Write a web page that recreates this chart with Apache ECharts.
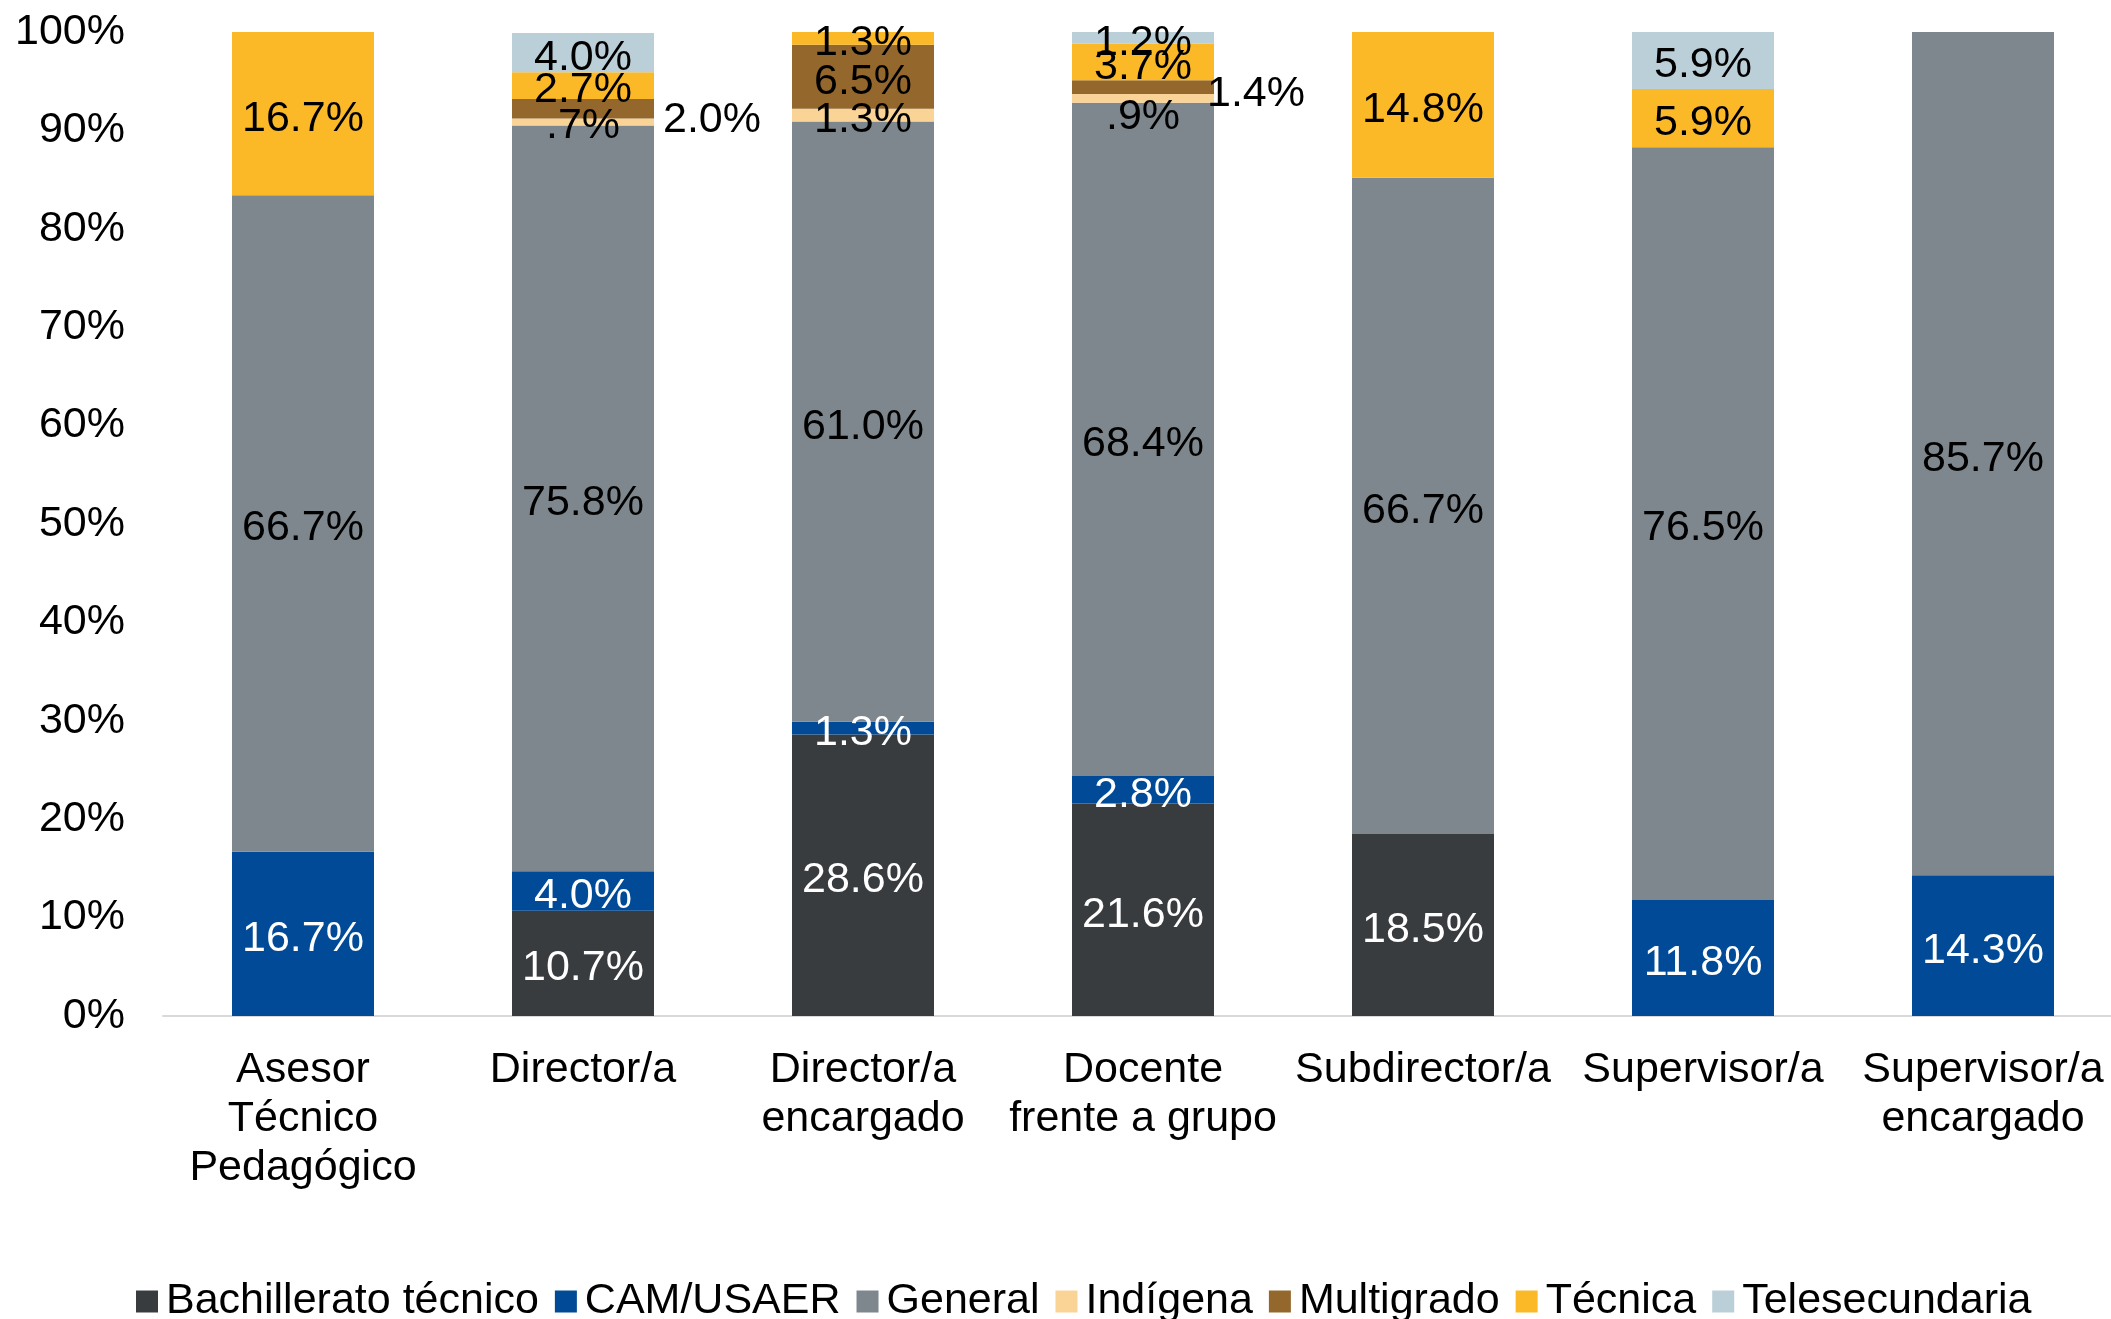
<!DOCTYPE html>
<html>
<head>
    <meta charset="UTF-8">
    <title>Gráfico de barras apiladas</title>
    <script src="https://cdn.jsdelivr.net/npm/echarts@6/dist/echarts.min.js"></script>
    <style>
        html, body {
            margin: 0;
            padding: 0;
            height: 100%;
            background: #fff;
        }
        #chart {
            width: 2111px;
            height: 1319px;
        }
    </style>
</head>
<body>
<div id="chart"></div>
<script>
    // categorías (con saltos de línea como en el original)
    var categories = [
        'Asesor\nTécnico\nPedagógico',
        'Director/a',
        'Director/a\nencargado',
        'Docente\nfrente a grupo',
        'Subdirector/a',
        'Supervisor/a',
        'Supervisor/a\nencargado'
    ];

    // valores en % por serie
    var bachillerato  = [null, 10.7, 28.6, 21.6, 18.5, null, null];
    var camUsaer      = [16.7, 4.0, 1.3, 2.8, null, 11.8, 14.3];
    var general       = [66.7, 75.8, 61.0, 68.4, 66.7, 76.5, 85.7];
    var indigena      = [null, 0.7, 1.3, 0.9, null, null, null];
    var multigrado    = [null, 2.0, 6.5, 1.4, null, null, null];
    var tecnica       = [16.7, 2.7, 1.3, 3.7, 14.8, 5.9, null];
    var telesecundaria = [null, 4.0, null, 1.2, null, 5.9, null];

    var yTicks = [0, 10, 20, 30, 40, 50, 60, 70, 80, 90, 100];

    var FONT = '"Liberation Sans", Arial, sans-serif';
    var FS = 43;

    // etiquetas desplazadas (como en Excel)
    var labelOffsets = {
        'Indígena': { 1: [0, 4], 3: [0, 19] },
        'Multigrado': { 1: [129, 11], 3: [113, 7] }
    };

    function fmt(p) {
        var v = p.value;
        if (v == null) return '';
        var s = v.toFixed(1);
        if (v < 1) s = s.replace(/^0/, '');
        return s + '%';
    }

    function makeSeries(name, values, color, labelColor) {
        var offs = labelOffsets[name] || {};
        return {
            name: name,
            type: 'bar',
            stack: 'total',
            barWidth: 142,
            itemStyle: { color: color },
            label: {
                show: true,
                position: 'inside',
                offset: [0, 5],
                color: labelColor,
                fontFamily: FONT,
                fontSize: FS,
                formatter: fmt
            },
            data: values.map(function (v, i) {
                if (offs[i]) {
                    return { value: v, label: { offset: offs[i] } };
                }
                return v;
            })
        };
    }

    var chart = echarts.init(document.getElementById('chart'));

    var option = {
        animation: false,
        textStyle: { fontFamily: FONT },
        grid: {
            left: 163,
            top: 32,
            width: 1960,
            height: 984,
            containLabel: false,
            outerBoundsMode: 'none'
        },
        legend: {
            left: 131,
            top: 1275,
            itemWidth: 22,
            itemHeight: 22,
            itemGap: 16,
            icon: 'rect',
            textStyle: {
                fontFamily: FONT,
                fontSize: FS,
                color: '#000',
                padding: [0, 0, 0, 3]
            },
            data: ['Bachillerato técnico', 'CAM/USAER', 'General', 'Indígena',
                'Multigrado', 'Técnica', 'Telesecundaria']
        },
        xAxis: {
            type: 'category',
            data: categories,
            axisLine: { lineStyle: { color: '#D9D9D9', width: 2 } },
            axisTick: { show: false },
            axisLabel: {
                interval: 0,
                margin: 30,
                fontFamily: FONT,
                fontSize: FS,
                lineHeight: 49,
                color: '#000'
            }
        },
        yAxis: {
            type: 'value',
            min: yTicks[0],
            max: yTicks[yTicks.length - 1],
            interval: 10,
            splitLine: { show: false },
            axisLine: { show: false },
            axisTick: { show: false },
            axisLabel: {
                margin: 38,
                padding: [5, 0, 0, 0],
                fontFamily: FONT,
                fontSize: FS,
                color: '#000',
                formatter: '{value}%'
            }
        },
        series: [
            makeSeries('Bachillerato técnico', bachillerato, '#393C3F', '#fff'),
            makeSeries('CAM/USAER', camUsaer, '#004A97', '#fff'),
            makeSeries('General', general, '#7E878D', '#000'),
            makeSeries('Indígena', indigena, '#FAD397', '#000'),
            makeSeries('Multigrado', multigrado, '#94682D', '#000'),
            makeSeries('Técnica', tecnica, '#FBB927', '#000'),
            makeSeries('Telesecundaria', telesecundaria, '#BBCFD8', '#000')
        ]
    };

    chart.setOption(option);
</script>
</body>
</html>
